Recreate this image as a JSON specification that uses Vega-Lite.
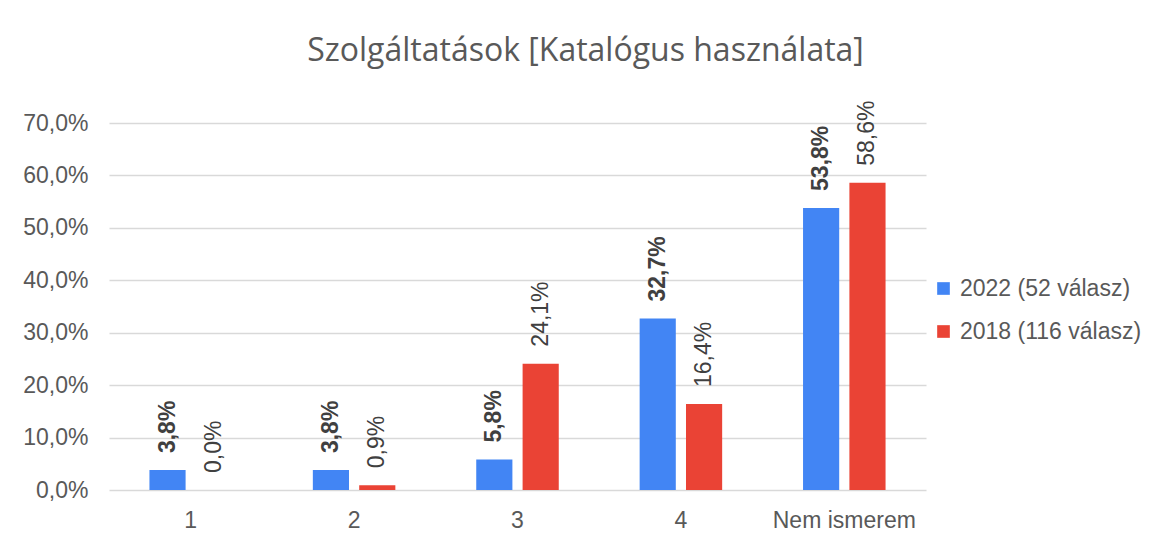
{
  "$schema": "https://vega.github.io/schema/vega-lite/v6.json",
  "width": 817,
  "height": 367,
  "autosize": {"type": "none"},
  "padding": {"left": 109, "top": 123, "right": 234, "bottom": 50},
  "config": {
    "locale": {"number": {"decimal": ",", "thousands": " ", "grouping": [3], "currency": ["", " Ft"]}},
    "view": {"stroke": null},
    "font": "Liberation Sans"
  },
  "title": {
    "text": "Szolgáltatások [Katalógus használata]",
    "font": "Open Sans",
    "fontSize": 32,
    "fontWeight": "normal",
    "color": "#595959",
    "anchor": "middle",
    "frame": "group",
    "dx": 68,
    "offset": 33
  },
  "data": {
    "values": [
      {"cat": "1", "series": "2022 (52 válasz)", "value": 0.038},
      {"cat": "2", "series": "2022 (52 válasz)", "value": 0.038},
      {"cat": "3", "series": "2022 (52 válasz)", "value": 0.058},
      {"cat": "4", "series": "2022 (52 válasz)", "value": 0.327},
      {"cat": "Nem ismerem", "series": "2022 (52 válasz)", "value": 0.538},
      {"cat": "1", "series": "2018 (116 válasz)", "value": 0.0},
      {"cat": "2", "series": "2018 (116 válasz)", "value": 0.009},
      {"cat": "3", "series": "2018 (116 válasz)", "value": 0.241},
      {"cat": "4", "series": "2018 (116 válasz)", "value": 0.164},
      {"cat": "Nem ismerem", "series": "2018 (116 válasz)", "value": 0.586}
    ]
  },
  "encoding": {
    "x": {
      "field": "cat",
      "type": "nominal",
      "sort": ["1", "2", "3", "4", "Nem ismerem"],
      "scale": {"paddingInner": 0.495, "paddingOuter": 0.2475},
      "axis": {
        "title": null,
        "labelAngle": 0,
        "labelFontSize": 23,
        "labelColor": "#595959",
        "labelPadding": 19,
        "domain": false,
        "ticks": false,
        "grid": false
      }
    },
    "xOffset": {
      "field": "series",
      "type": "nominal",
      "sort": ["2022 (52 válasz)", "2018 (116 válasz)"],
      "scale": {"paddingInner": 0.22}
    },
    "y": {
      "field": "value",
      "type": "quantitative",
      "scale": {"domain": [0, 0.7], "nice": false},
      "axis": {
        "title": null,
        "values": [0, 0.1, 0.2, 0.3, 0.4, 0.5, 0.6, 0.7],
        "format": ".1%",
        "labelFontSize": 23,
        "labelColor": "#595959",
        "labelPadding": 21,
        "domain": false,
        "ticks": false,
        "gridColor": "#D9D9D9",
        "gridWidth": 1.3
      }
    }
  },
  "layer": [
    {
      "mark": {"type": "bar"},
      "encoding": {
        "color": {
          "field": "series",
          "type": "nominal",
          "sort": ["2022 (52 válasz)", "2018 (116 válasz)"],
          "scale": {"domain": ["2022 (52 válasz)", "2018 (116 válasz)"], "range": ["#4285F4", "#EA4335"]},
          "legend": {
            "title": null,
            "orient": "none",
            "legendX": 823,
            "legendY": 154,
            "symbolType": "square",
            "symbolSize": 160,
            "symbolStrokeWidth": 0,
            "labelFontSize": 23,
            "labelColor": "#595959",
            "labelOffset": 5,
            "rowPadding": 19,
            "labelLimit": 300
          }
        }
      }
    },
    {
      "transform": [{"filter": "datum.series === '2022 (52 válasz)'"}],
      "mark": {"type": "text", "angle": 270, "align": "left", "baseline": "middle", "dx": 17, "fontSize": 23, "fontWeight": "bold", "color": "#404040"},
      "encoding": {"text": {"field": "value", "type": "quantitative", "format": ".1%"}}
    },
    {
      "transform": [{"filter": "datum.series === '2018 (116 válasz)'"}],
      "mark": {"type": "text", "angle": 270, "align": "left", "baseline": "middle", "dx": 17, "fontSize": 23, "fontWeight": "normal", "color": "#404040"},
      "encoding": {"text": {"field": "value", "type": "quantitative", "format": ".1%"}}
    }
  ]
}
